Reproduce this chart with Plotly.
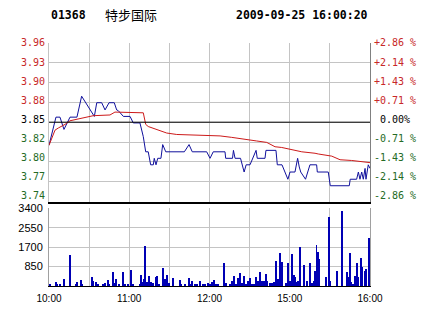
import plotly.graph_objects as go

# ---------------- data ----------------
stock_code = "01368"
stock_name = "特步国际"
stamp = "2009-09-25 16:00:20"
prev_close = 3.85
limit_pct = 2.86

# minutes since 10:00 (HK session 10:00-12:30, 14:30-16:00 -> 240 trading minutes)
price_minute = [0, 5.2, 8.2, 11.2, 15.7, 20.9, 24.4, 33.9, 35.7, 39.4, 41.9, 44.9, 48.8,
                50.6, 51.8, 55.6, 60.6, 63, 68, 70.5, 72.3, 74.2, 76, 78, 78.7, 80, 81.3,
                83.7, 85, 87.3, 101.2, 104.7, 107.1, 117.9, 120.4, 122.8, 131.6, 132.1,
                137.2, 137.9, 139.1, 143.2, 145.9, 147.4, 150.3, 154, 154.8, 155.7, 161.5,
                162.2, 169.7, 170.7, 174.2, 178.6, 180.2, 183.9, 185.9, 187.1, 188.2, 191.8,
                195.1, 200.1, 200.6, 208.8, 210.3, 224.5, 225.2, 230, 231.3, 232.5, 233.8,
                235, 236.3, 237, 238.7, 240]
price_value = [3.818, 3.857, 3.857, 3.840, 3.857, 3.857, 3.886, 3.858, 3.877, 3.877, 3.867,
               3.877, 3.877, 3.867, 3.866, 3.858, 3.858, 3.849, 3.849, 3.830, 3.809, 3.809,
               3.791, 3.791, 3.800, 3.791, 3.800, 3.800, 3.819, 3.809, 3.809, 3.819, 3.809,
               3.809, 3.800, 3.809, 3.809, 3.800, 3.800, 3.811, 3.800, 3.800, 3.781, 3.791,
               3.791, 3.809, 3.811, 3.800, 3.800, 3.811, 3.811, 3.791, 3.791, 3.771, 3.781,
               3.781, 3.800, 3.788, 3.781, 3.771, 3.791, 3.791, 3.781, 3.781, 3.762, 3.762,
               3.771, 3.771, 3.781, 3.771, 3.781, 3.771, 3.786, 3.771, 3.791, 3.786]

avg_minute = [0, 4.5, 7, 12, 15.7, 23.2, 33.1, 45.6, 49.3, 70.5, 72.3, 74.2, 80.5, 88,
              95.5, 117.9, 127.9, 136.6, 149, 155.3, 162.8, 169, 174, 181.5, 189, 198.9,
              201.3, 211.4, 217.6, 226.3, 238.7, 240]
avg_value = [3.818, 3.839, 3.842, 3.847, 3.852, 3.855, 3.859, 3.860, 3.864, 3.863, 3.847,
             3.844, 3.840, 3.835, 3.833, 3.832, 3.831, 3.829, 3.825, 3.824, 3.822, 3.816,
             3.815, 3.8125, 3.809, 3.807, 3.806, 3.803, 3.798, 3.797, 3.794, 3.794]

vol_minute = [0, 1, 5, 6, 8, 11, 16, 20, 21, 24, 25, 32, 33, 35, 37, 40, 41, 42, 44, 45,
              48, 49, 50, 52, 55, 57, 59, 61, 63, 68, 69, 70, 71, 72, 73, 75, 76, 78, 80,
              81, 82, 85, 86, 87, 88, 90, 93, 98, 99, 102, 105, 106, 107, 109, 111, 113,
              115, 117, 119, 120, 121, 122, 123, 125, 126, 131, 132, 135, 137, 138, 140,
              141, 142, 143, 144, 146, 147, 149, 150, 152, 153, 155, 156, 158, 159, 161,
              162, 163, 165, 167, 168, 170, 171, 173, 174, 177, 179, 180, 182, 183, 184,
              185, 186, 188, 191, 193, 195, 197, 198, 199, 200, 201, 202, 207, 209, 210,
              215, 219, 223, 224, 225, 226, 227, 229, 230, 231, 233, 234, 236, 237, 239]
vol_value = [80, 60, 170, 50, 60, 300, 1350, 80, 150, 270, 70, 360, 200, 170, 50, 80, 80,
             100, 270, 80, 620, 100, 280, 60, 610, 60, 60, 700, 60, 70, 470, 150, 290, 1750,
             150, 410, 150, 120, 365, 440, 60, 760, 150, 300, 470, 100, 320, 260, 60, 60,
             320, 60, 200, 60, 60, 200, 60, 60, 140, 40, 60, 150, 250, 60, 60, 1000, 100,
             60, 220, 410, 60, 320, 100, 570, 100, 440, 60, 200, 320, 60, 80, 365, 200,
             600, 220, 220, 510, 220, 100, 130, 150, 1090, 300, 1430, 1050, 100, 990, 200,
             1390, 470, 365, 145, 200, 1680, 900, 220, 990, 100, 190, 650, 1780, 1460,
             1170, 365, 2990, 190, 650, 3280, 580, 400, 1430, 150, 60, 410, 1000, 370,
             1200, 810, 650, 720, 2070]

price_labels = ["3.96", "3.93", "3.90", "3.88", "3.85", "3.82", "3.80", "3.77", "3.74"]
pct_labels = ["+2.86 %", "+2.14 %", "+1.43 %", "+0.71 %", " 0.00%", "-0.71 %", "-1.43 %",
              "-2.14 %", "-2.86 %"]
vol_ticks = [0, 850, 1700, 2550, 3400]
vol_labels = ["", "850", "1700", "2550", "3400"]
time_ticks = [0, 30, 60, 90, 120, 150, 180, 210, 240]
time_labels = ["10:00", "", "11:00", "", "12:00", "", "15:00", "", "16:00"]

# ---------------- styling ----------------
RED = "#c82828"
GREEN = "#256b25"
BLACK = "#000000"
GRID = "#c4c4c4"
W, H = 447, 309

hi = prev_close * (1 + limit_pct / 100)
lo = prev_close * (1 - limit_pct / 100)
n = len(price_labels)
step = (hi - lo) / (n - 1)
grid_ticks = [hi - i * step for i in range(n)]
# the original chart spaces its labels slightly tighter than its grid
label_step = step * 0.962
label_ticks = [hi - 0.0004 - i * label_step for i in range(n)]
mid = (n - 1) // 2


def colour(i):
    if i < mid:
        return RED
    if i > mid:
        return GREEN
    return BLACK


left_text = ['<span style="color:%s">%s</span>' % (colour(i), t) for i, t in enumerate(price_labels)]
right_text = ['<span style="color:%s">%s</span>' % (colour(i), t) for i, t in enumerate(pct_labels)]

xd = [49 / W, 370 / W]
price_dom = [1 - 201.7 / H, 1 - 42.7 / H]
vol_dom = [1 - 286 / H, 1 - 208.3 / H]

fig = go.Figure()
# previous close reference line (on right-label axis)
fig.add_trace(go.Scatter(x=[0, 240], y=[prev_close, prev_close], mode="lines",
                         line=dict(color=BLACK, width=1), xaxis="x", yaxis="y4",
                         hoverinfo="skip"))
fig.add_trace(go.Scatter(x=avg_minute, y=avg_value, mode="lines",
                         line=dict(color="#cc1a1a", width=1), xaxis="x", yaxis="y3",
                         hoverinfo="skip"))
fig.add_trace(go.Scatter(x=price_minute, y=price_value, mode="lines",
                         line=dict(color="#10109c", width=1), xaxis="x", yaxis="y",
                         hoverinfo="skip"))
fig.add_trace(go.Bar(x=vol_minute, y=vol_value, width=0.75,
                     marker=dict(color="#0000b4", line=dict(width=0)),
                     xaxis="x2", yaxis="y2", hoverinfo="skip"))

mono = "DejaVu Sans Mono"
sans = "Liberation Sans"

fig.update_layout(
    template="none",
    width=W, height=H, margin=dict(l=0, r=0, t=0, b=0, pad=0),
    paper_bgcolor="white", plot_bgcolor="white", showlegend=False,
    bargap=0, hovermode=False,
    xaxis=dict(domain=xd, range=[0, 240], anchor="y", tickvals=time_ticks,
               showticklabels=False, showgrid=True, gridcolor=GRID, gridwidth=1,
               showline=True, linecolor=BLACK, linewidth=1.5, zeroline=False,
               ticks="", automargin=False),
    yaxis=dict(domain=price_dom, range=[lo, hi], anchor="x", tickvals=grid_ticks,
               showticklabels=False, showgrid=True, gridcolor=GRID, gridwidth=1,
               zeroline=False, showline=True, linecolor=GRID, ticks="",
               automargin=False),
    yaxis3=dict(overlaying="y", side="left", anchor="x", range=[lo, hi],
                tickvals=label_ticks, ticktext=left_text, showgrid=False,
                zeroline=False, showline=False, ticks="", automargin=False,
                tickfont=dict(family=mono, size=10), ticklabelstandoff=3),
    yaxis4=dict(overlaying="y", side="right", anchor="x", range=[lo, hi],
                tickvals=label_ticks, ticktext=right_text, showgrid=False,
                zeroline=False, showline=True, linecolor="#808080", ticks="",
                automargin=False, tickfont=dict(family=mono, size=10),
                ticklabelstandoff=1),
    xaxis2=dict(domain=xd, range=[0, 240], anchor="y2", tickvals=time_ticks,
                ticktext=time_labels, showgrid=True, gridcolor=GRID, gridwidth=1,
                showline=True, linecolor=BLACK, linewidth=1, zeroline=False, ticks="",
                automargin=False, tickfont=dict(family=sans, size=10, color=BLACK),
                ticklabelstandoff=3),
    yaxis2=dict(domain=vol_dom, range=[0, 3400], anchor="x2", tickvals=vol_ticks,
                ticktext=vol_labels, showgrid=True, gridcolor=GRID, gridwidth=1,
                zeroline=False, showline=True, mirror=True, linecolor="#a0a0a0",
                ticks="", automargin=False,
                tickfont=dict(family=sans, size=11, color=BLACK),
                ticklabelstandoff=3),
    annotations=[
        dict(text="<b>%s</b>" % stock_code, xref="paper", yref="paper", x=49 / W,
             y=1 - 15 / H, xanchor="left", yanchor="middle", showarrow=False,
             font=dict(family=mono, size=11.5, color=BLACK)),
        dict(text=stock_name, xref="paper", yref="paper", x=103 / W, y=1 - 14 / H,
             xanchor="left", yanchor="middle", showarrow=False,
             font=dict(family="Noto Sans CJK SC", size=13, color=BLACK)),
        dict(text="<b>%s</b>" % stamp, xref="paper", yref="paper", x=370 / W,
             y=1 - 15 / H, xanchor="right", yanchor="middle", showarrow=False,
             font=dict(family=mono, size=11.5, color=BLACK)),
    ],
)

fig.write_html("out.html", config={"displayModeBar": False})
